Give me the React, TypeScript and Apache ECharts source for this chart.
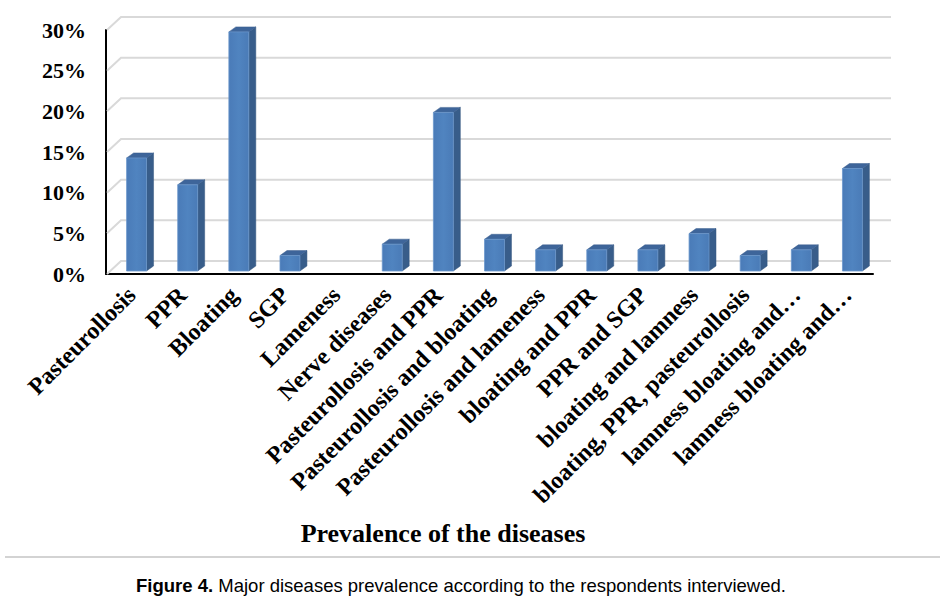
import React, { useEffect, useRef } from "react";
import * as echarts from "echarts";

const categories = [
  "Pasteurollosis",
  "PPR",
  "Bloating",
  "SGP",
  "Lameness",
  "Nerve diseases",
  "Pasteurollosis and PPR",
  "Pasteurollosis and bloating",
  "Pasteurollosis and lameness",
  "bloating and PPR",
  "PPR and SGP",
  "bloating and lamness",
  "bloating, PPR, pasteurollosis",
  "lamness bloating and…",
  "lamness bloating and…",
];

const prevalence = [13.9, 10.6, 29.4, 1.9, 0, 3.3, 19.5, 3.9, 2.6, 2.6, 2.6, 4.6, 1.9, 2.6, 12.6];

const yTicks = [0, 5, 10, 15, 20, 25, 30];

const xTitle = "Prevalence of the diseases";
const captionBold = "Figure 4.";
const captionRest = " Major diseases prevalence according to the respondents interviewed.";

const DEPTH_X = 15;
const DEPTH_Y = -13;

export default function App() {
  const ref = useRef<HTMLDivElement>(null);

  useEffect(() => {
    if (!ref.current) return;
    const chart = echarts.init(ref.current, null, { renderer: "svg" });

    const wallRender = (params: any, api: any) => {
      const cs = params.coordSys;
      const v = api.value(0);
      const p = api.coord([0, v]);
      const y = p[1];
      const x0 = cs.x;
      const x1 = cs.x + cs.width;
      return {
        type: "polyline",
        shape: {
          points: [
            [x0 + 1, y],
            [x0 + DEPTH_X, y + DEPTH_Y],
            [x1 + DEPTH_X + 3, y + DEPTH_Y],
          ],
        },
        style: { stroke: "#d9d9d9", lineWidth: 2, fill: "none" },
        silent: true,
      };
    };

    const barRender = (params: any, api: any) => {
      const i = api.value(0);
      const v = api.value(1);
      if (!v) return { type: "group", children: [] };
      const base = api.coord([i, 0]);
      const top = api.coord([i, v]);
      const band = api.size([1, 0])[0];
      const w = band * 0.39;
      const cx = base[0] + 5;
      const by = base[1] - 3;
      const ty = top[1] - 3;
      const dx = 7;
      const dy = -5;
      const l = cx - w / 2;
      const r = cx + w / 2;
      return {
        type: "group",
        children: [
          {
            type: "polygon",
            shape: { points: [[r, by], [r, ty], [r + dx, ty + dy], [r + dx, by + dy]] },
            style: { fill: "#385D8A", stroke: "#34567f", lineWidth: 0.5 },
          },
          {
            type: "polygon",
            shape: { points: [[l, ty], [r, ty], [r + dx, ty + dy], [l + dx, ty + dy]] },
            style: { fill: "#3E659A", stroke: "#3a5f8f", lineWidth: 0.5 },
          },
          {
            type: "rect",
            shape: { x: l, y: ty, width: w, height: by - ty },
            style: {
              fill: new echarts.graphic.LinearGradient(0, 0, 1, 0, [
                { offset: 0, color: "#4A7BB8" },
                { offset: 0.5, color: "#5084C0" },
                { offset: 1, color: "#4A7BB7" },
              ]),
              stroke: "#6b97cc",
              lineWidth: 0.8,
            },
          },
        ],
      };
    };

    chart.setOption({
      animation: false,
      backgroundColor: "#ffffff",
      grid: { left: 106, top: 30, width: 767, height: 244, containLabel: false },
      xAxis: {
        type: "category",
        data: categories,
        axisLine: { show: true, lineStyle: { color: "#000", width: 2 } },
        axisTick: { show: false },
        splitLine: { show: false },
        axisLabel: {
          interval: 0,
          rotate: 45,
          margin: 17,
          color: "#000",
          fontFamily: "Liberation Serif",
          fontWeight: "bold",
          fontSize: 24,
        },
      },
      yAxis: {
        type: "value",
        min: 0,
        max: 30,
        interval: 5,
        axisLine: { show: true, lineStyle: { color: "#000", width: 2 } },
        axisTick: { show: false },
        splitLine: { show: false },
        axisLabel: {
          formatter: "{value}%",
          margin: 20,
          color: "#000",
          fontFamily: "Liberation Serif",
          fontWeight: "bold",
          fontSize: 22,
        },
      },
      series: [
        {
          type: "custom",
          name: "walls",
          renderItem: wallRender,
          data: yTicks.map((t) => [t]),
          encode: { y: 0 },
          z: 1,
          silent: true,
        },
        {
          type: "custom",
          name: "Prevalence",
          renderItem: barRender,
          data: prevalence.map((v, i) => [i, v]),
          encode: { x: 0, y: 1 },
          z: 3,
        },
      ],
      graphic: [
        {
          type: "text",
          style: {
            x: 443,
            y: 533,
            text: xTitle,
            fontFamily: "Liberation Serif",
            fontWeight: "bold",
            fontSize: 26,
            fill: "#000",
            align: "center",
            verticalAlign: "middle",
          },
        },
        {
          type: "line",
          shape: { x1: 5, y1: 557, x2: 940, y2: 557 },
          style: { stroke: "#d3d3d3", lineWidth: 2 },
        },
        {
          type: "text",
          style: {
            x: 461,
            y: 585,
            text: "{b|" + captionBold + "}{r|" + captionRest + "}",
            align: "center",
            verticalAlign: "middle",
            fill: "#000",
            rich: {
              b: { fontFamily: "Liberation Sans", fontWeight: "bold", fontSize: 18.5, fill: "#000" },
              r: { fontFamily: "Liberation Sans", fontSize: 18.5, fill: "#000" },
            },
          },
        },
      ],
    });

    return () => chart.dispose();
  }, []);

  return (
    <div
      ref={ref}
      style={{ position: "absolute", left: 0, top: 0, width: 948, height: 606, background: "#fff" }}
    />
  );
}
